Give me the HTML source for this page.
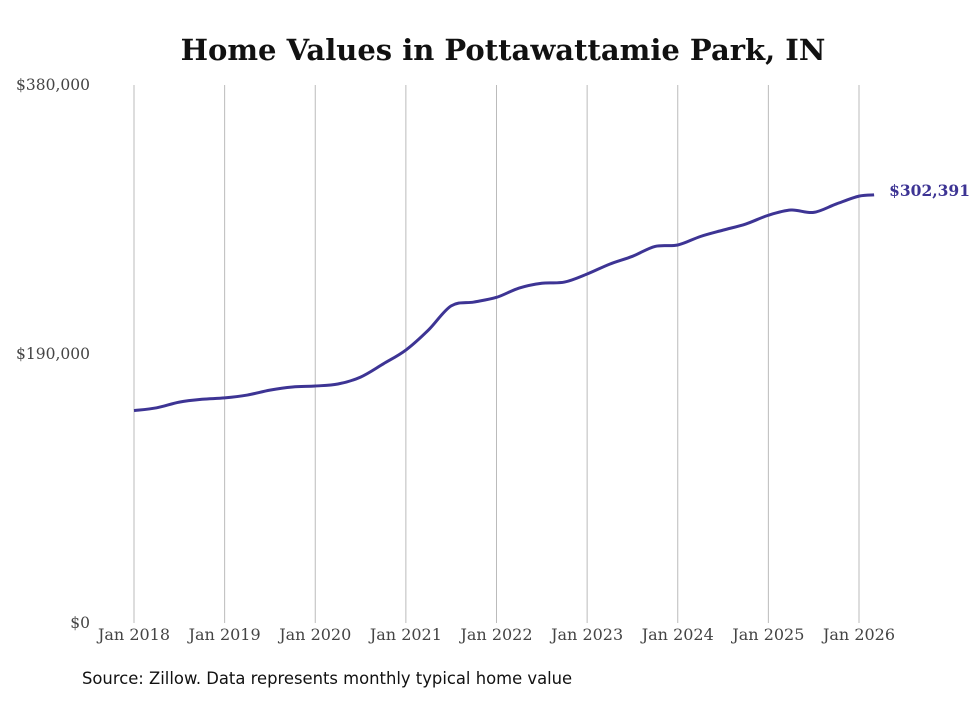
<!DOCTYPE html>
<html><head><meta charset="utf-8"><style>
body{margin:0;background:#fff;}
svg text{font-family:"DejaVu Serif","Liberation Serif",serif;}
</style></head><body>
<svg id="chart" width="980" height="699">
<text x="503" y="60" text-anchor="middle" font-size="29" font-weight="bold" fill="#111">Home Values in Pottawattamie Park, IN</text>
<g id="grid"></g><g id="yticks"></g><g id="xticks"></g>
<path id="line" fill="none" stroke="#3d3494" stroke-width="3"/>
<text id="endlabel" font-size="15.5" font-weight="bold" fill="#3d3494"></text>
<text x="82" y="684" font-size="16.4" fill="#111" style="font-family:'DejaVu Sans',sans-serif">Source: Zillow. Data represents monthly typical home value</text>
</svg>
<script>
const months = [0,3,6,9,12,15,18,21,24,27,30,33,36,39,42,45,48,51,54,57,60,63,66,69,72,75,78,81,84,87,90,93,96,98];
const values = [150000,152000,156000,158000,159000,161000,164500,166700,167400,168800,173700,183000,192800,207000,224000,226700,230000,236600,240000,240800,246500,253500,259000,266000,267000,273000,277500,281800,288000,291700,290000,296000,301500,302391];
const yTicks = [0,190000,380000];
const yTickLabels = ["$0","$190,000","$380,000"];
const xTickLabels = ["Jan 2018","Jan 2019","Jan 2020","Jan 2021","Jan 2022","Jan 2023","Jan 2024","Jan 2025","Jan 2026"];
const ns="http://www.w3.org/2000/svg";
const x=m=>134+m*(859-134)/96;
const y=v=>623-v*(623-85)/380000;
const grid=document.getElementById('grid'),xt=document.getElementById('xticks'),yt=document.getElementById('yticks');
xTickLabels.forEach((l,i)=>{
  const L=document.createElementNS(ns,'line');
  
  
  L.setAttribute('x1',x(i*12));L.setAttribute('x2',x(i*12));L.setAttribute('y1',85);L.setAttribute('y2',623);
  L.setAttribute('stroke','#bbb');L.setAttribute('stroke-width','1');grid.appendChild(L);
  const t=document.createElementNS(ns,'text');
  
  
  t.setAttribute('x',x(i*12));t.setAttribute('y',640);t.setAttribute('text-anchor','middle');
  t.setAttribute('font-size','16');t.setAttribute('fill','#444');t.textContent=l;xt.appendChild(t);
});
yTicks.forEach((v,i)=>{
  const t=document.createElementNS(ns,'text');
  
  
  t.setAttribute('x',90);t.setAttribute('y',y(v)+5);t.setAttribute('text-anchor','end');
  t.setAttribute('font-size','15.5');t.setAttribute('fill','#444');t.textContent=yTickLabels[i];yt.appendChild(t);
});
const P=months.map((m,i)=>[x(m),y(values[i])]);
let d='M'+P[0][0]+','+P[0][1];
for(let i=0;i<P.length-1;i++){
  const p0=P[i-1]||P[i],p1=P[i],p2=P[i+1],p3=P[i+2]||p2;
  const c1=[p1[0]+(p2[0]-p0[0])/6,p1[1]+(p2[1]-p0[1])/6],c2=[p2[0]-(p3[0]-p1[0])/6,p2[1]-(p3[1]-p1[1])/6];
  d+=` C${c1[0]},${c1[1]} ${c2[0]},${c2[1]} ${p2[0]},${p2[1]}`;
}
document.getElementById('line').setAttribute('d',d);
const last=values[values.length-1],el=document.getElementById('endlabel');
el.setAttribute('x',x(months[months.length-1])+15);el.setAttribute('y',y(last)+1);
el.textContent='$'+last.toLocaleString('en-US');
</script>
</body></html>
